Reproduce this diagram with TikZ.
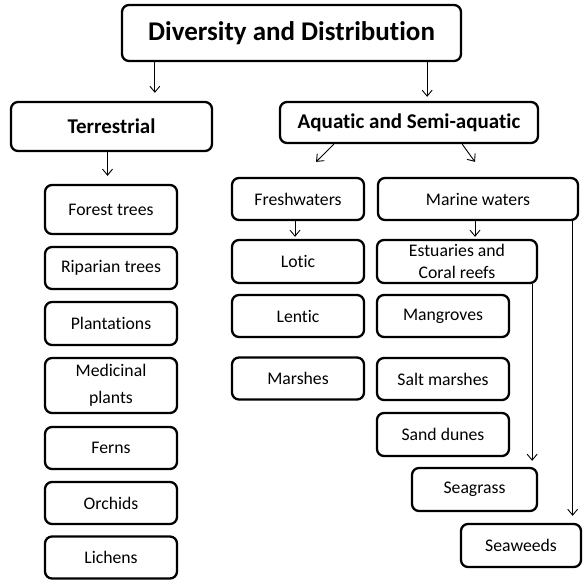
\documentclass[tikz,border=0pt]{standalone}
\usepackage{fontspec}
\setmainfont{Carlito}[Ligatures=NoCommon]
\usepackage{tikz}
\usetikzlibrary{arrows.meta,calc}
\tikzset{
  title-node/.style={draw=black, line width=2.3pt, rounded corners=7pt,
    minimum width=339pt, minimum height=56pt, align=center,
    font=\fontsize{27}{32}\selectfont\bfseries, inner sep=2pt},
  head-node/.style={draw=black, line width=2.3pt, rounded corners=7pt,
    minimum height=45pt, align=center,
    font=\fontsize{21}{25}\selectfont\bfseries, inner sep=2pt},
  item-node/.style={draw=black, line width=2.3pt, rounded corners=7pt,
    minimum width=132pt, minimum height=42pt, align=center,
    font=\fontsize{17.7}{22}\selectfont, inner sep=2pt},
  flow-arrow/.style={-{Straight Barb[length=6pt,width=10pt]}, line width=0.9pt, draw=black}
}
\begin{document}
\begin{tikzpicture}[x=1pt, y=-1pt]
\useasboundingbox (0,0) rectangle (583,580);

% Top level
\node[title-node] (title) at (291.5,33) {Diversity and Distribution};
\node[head-node, minimum width=201pt, minimum height=49pt] (terr) at (111.5,126.5) {Terrestrial};
\node[head-node, minimum width=258pt, minimum height=41pt] (aqua) at (409,122.5) {Aquatic and Semi-aquatic};

% Terrestrial column
\node[item-node, minimum height=49pt] (forest) at (111,209.5) {Forest trees};
\node[item-node] (riparian) at (111,268) {Riparian trees};
\node[item-node, minimum height=43pt] (plant) at (111,323.5) {Plantations};
\node[item-node, minimum height=55pt] (medic) at (111,385.5) {Medicinal\\[5pt]plants};
\node[item-node] (ferns) at (111,448) {Ferns};
\node[item-node] (orchids) at (111,503) {Orchids};
\node[item-node] (lichens) at (111,557.5) {Lichens};

% Freshwaters column
\node[item-node] (fresh) at (298,199) {Freshwaters};
\node[item-node, minimum height=43pt] (lotic) at (298,261.5) {Lotic};
\node[item-node] (lentic) at (298,316) {Lentic};
\node[item-node] (marshes) at (298,378.5) {Marshes};

% Marine column
\node[item-node, minimum width=200pt] (marine) at (478,199) {Marine waters};
\node[item-node, minimum width=160pt, minimum height=43pt, inner sep=1pt] (estuary) at (457,261.5) {Estuaries and\\[0pt]Coral reefs};
\node[item-node] (mangrove) at (443,316) {Mangroves};
\node[item-node] (salt) at (443,379) {Salt marshes};
\node[item-node, minimum height=43pt] (sand) at (443,434.5) {Sand dunes};
\node[item-node, minimum width=125pt, minimum height=43pt] (seagrass) at (474.5,489.5) {Seagrass};
\node[item-node, minimum width=120pt, minimum height=43pt] (seaweed) at (521,545.5) {Seaweeds};

% Arrows
\draw[flow-arrow, shorten >=8pt] ([xshift=34pt]title.south west) -- ([xshift=34pt]title.south west |- terr.north);
\draw[flow-arrow, shorten >=4pt] ([xshift=-35pt]title.south east) -- ([xshift=-35pt]title.south east |- aqua.north);
\draw[flow-arrow, shorten >=8pt] ([xshift=-4pt]terr.south) -- ([xshift=-4pt]terr.south |- forest.north);
\draw[flow-arrow] ([xshift=55pt]aqua.south west) -- ([xshift=18pt,yshift=15pt]fresh.north);
\draw[flow-arrow] ([xshift=-77pt]aqua.south east) -- ([xshift=-3pt,yshift=15pt]marine.north);
\draw[flow-arrow, shorten >=2pt] ([xshift=-3pt]fresh.south) -- ([xshift=-3pt]fresh.south |- lotic.north);
\draw[flow-arrow, shorten >=2pt] ([xshift=-3pt]marine.south) -- ([xshift=-3pt]marine.south |- estuary.north);
\draw[flow-arrow, shorten >=6pt] ([xshift=-6pt]estuary.south east) -- ([xshift=-6pt]estuary.south east |- seagrass.north);
\draw[flow-arrow, shorten >=7pt] ([xshift=-6.5pt]marine.south east) -- ([xshift=-6.5pt]marine.south east |- seaweed.north);
\end{tikzpicture}
\end{document}
